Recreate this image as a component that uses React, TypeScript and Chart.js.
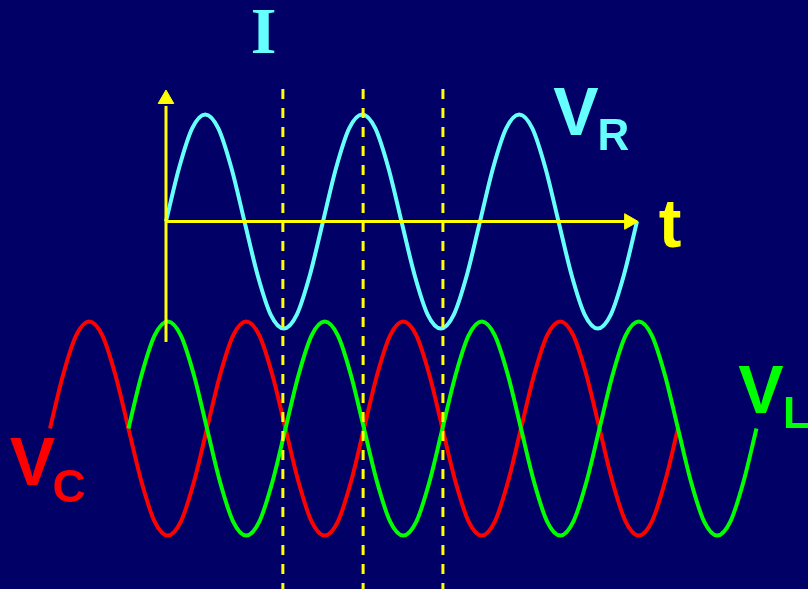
import React, { useEffect, useRef } from "react";
import { Chart, registerables } from "chart.js";

Chart.register(...registerables);

// Phase angle (degrees) of the sample points
const PHASE = [
  -270, -240, -210, -180, -150, -120, -90, -60, -30, 0, 30, 60, 90, 120, 150, 180,
  210, 240, 270, 300, 330, 360, 390, 420, 450, 480, 510, 540, 570, 600, 630, 660,
  690, 720, 750, 780, 810, 840, 870, 900, 930, 960, 990, 1020, 1050, 1080, 1110,
  1140, 1170, 1200, 1230, 1260, 1290, 1320, 1350,
];

// Current / V_R (in phase with I)
const V_R = [
  null, null, null, null, null, null, null, null, null,
  0, 0.5, 0.87, 1, 0.87, 0.5, 0, -0.5, -0.87, -1, -0.87, -0.5,
  0, 0.5, 0.87, 1, 0.87, 0.5, 0, -0.5, -0.87, -1, -0.87, -0.5,
  0, 0.5, 0.87, 1, 0.87, 0.5, 0, -0.5, -0.87, -1, -0.87, -0.5,
  0,
  null, null, null, null, null, null, null, null, null,
];

// V_L (leads by 90°)
const V_L = [
  null, null, null, null, null, null,
  0, 0.5, 0.87, 1, 0.87, 0.5, 0, -0.5, -0.87, -1, -0.87, -0.5,
  0, 0.5, 0.87, 1, 0.87, 0.5, 0, -0.5, -0.87, -1, -0.87, -0.5,
  0, 0.5, 0.87, 1, 0.87, 0.5, 0, -0.5, -0.87, -1, -0.87, -0.5,
  0, 0.5, 0.87, 1, 0.87, 0.5, 0, -0.5, -0.87, -1, -0.87, -0.5,
  0,
];

// V_C (lags by 90°)
const V_C = [
  0, 0.5, 0.87, 1, 0.87, 0.5, 0, -0.5, -0.87, -1, -0.87, -0.5,
  0, 0.5, 0.87, 1, 0.87, 0.5, 0, -0.5, -0.87, -1, -0.87, -0.5,
  0, 0.5, 0.87, 1, 0.87, 0.5, 0, -0.5, -0.87, -1, -0.87, -0.5,
  0, 0.5, 0.87, 1, 0.87, 0.5, 0, -0.5, -0.87, -1, -0.87, -0.5,
  0,
  null, null, null, null, null, null,
];

// Dashed time markers (phase, degrees)
const MARKERS = [268, 452, 635];

// Baseline and slight horizontal shift of the lower pair of waves
const LOWER_BASE = -1.935;
const LOWER_SHIFT = 4;

// Axis extents
const T_AXIS_END = 1062; // arrow head centre on the t axis
const V_AXIS_BOTTOM = -1.126;
const V_AXIS_TOP = 1.08;
const V_ARROW = 1.145;
const MARKER_TOP = 1.238;
const MARKER_BOTTOM = -3.6;

const X_MIN = -380.6;
const X_MAX = 1472.1;
const Y_MIN = -3.435;
const Y_MAX = 2.07;

const BG = "#000066";
const CYAN = "#66FFFF";
const RED = "#FF0000";
const GREEN = "#00FF00";
const YELLOW = "#FFFF00";

const SANS = '"Liberation Sans", Arial, sans-serif';
const SERIF = '"Liberation Serif", "Times New Roman", serif';

const LABELS = [
  { text: "I", x: 223.6, y: 1.575, font: `bold 66px ${SERIF}`, color: CYAN, align: "center" },
  { text: "V", x: 940, y: 0.808, font: `bold 68px ${SANS}`, color: CYAN, align: "center" },
  { text: "R", x: 1026, y: 0.668, font: `bold 44px ${SANS}`, color: CYAN, align: "center" },
  { text: "t", x: 1156, y: -0.238, font: `bold 68px ${SANS}`, color: YELLOW, align: "center" },
  { text: "V", x: 1364, y: -1.79, font: `bold 68px ${SANS}`, color: GREEN, align: "center" },
  { text: "L", x: 1415, y: -1.93, font: `bold 44px ${SANS}`, color: GREEN, align: "left" },
  { text: "V", x: -306, y: -2.463, font: `bold 68px ${SANS}`, color: RED, align: "center" },
  { text: "C", x: -222, y: -2.621, font: `bold 46px ${SANS}`, color: RED, align: "center" },
];

function series(vals: (number | null)[], base: number, shift: number) {
  const out: { x: number; y: number }[] = [];
  PHASE.forEach((p, i) => {
    const v = vals[i];
    if (v !== null && v !== undefined) out.push({ x: p + shift, y: v + base });
  });
  return out;
}

const bgPlugin = {
  id: "bg",
  beforeDraw(chart: any) {
    const { ctx, width, height } = chart;
    ctx.save();
    ctx.fillStyle = BG;
    ctx.fillRect(0, 0, width, height);
    ctx.restore();
  },
};

const labelPlugin = {
  id: "labels",
  afterDraw(chart: any) {
    const { ctx } = chart;
    const xs = chart.scales.x;
    const ys = chart.scales.y;
    ctx.save();
    ctx.textBaseline = "alphabetic";
    for (const l of LABELS) {
      ctx.font = l.font;
      ctx.fillStyle = l.color;
      ctx.textAlign = l.align as CanvasTextAlign;
      ctx.fillText(l.text, xs.getPixelForValue(l.x), ys.getPixelForValue(l.y));
    }
    ctx.restore();
  },
};

export default function App() {
  const ref = useRef<HTMLCanvasElement | null>(null);

  useEffect(() => {
    document.body.style.margin = "0";
    document.body.style.background = BG;
    const canvas = ref.current;
    if (!canvas) return;

    const wave = (data: any[], color: string, order: number) => ({
      data,
      borderColor: color,
      borderWidth: 4,
      pointRadius: 0,
      cubicInterpolationMode: "monotone" as const,
      fill: false,
      order,
    });

    const markerSets = MARKERS.map((m) => ({
      data: [
        { x: m, y: MARKER_TOP },
        { x: m, y: MARKER_BOTTOM },
      ],
      borderColor: YELLOW,
      borderWidth: 3,
      borderDash: [10, 9],
      pointRadius: 0,
      fill: false,
      order: 0,
    }));

    const chart = new Chart(canvas, {
      type: "line",
      data: {
        datasets: [
          // vertical axis
          {
            data: [
              { x: 0, y: V_AXIS_BOTTOM },
              { x: 0, y: V_AXIS_TOP },
            ],
            borderColor: YELLOW,
            borderWidth: 3,
            pointRadius: 0,
            fill: false,
            order: 0,
          },
          {
            data: [{ x: 0, y: V_ARROW }],
            showLine: false,
            pointStyle: "triangle",
            pointRadius: 9,
            pointRotation: 0,
            pointBackgroundColor: YELLOW,
            pointBorderColor: YELLOW,
            pointBorderWidth: 1,
            order: 0,
          },
          // horizontal (t) axis
          {
            data: [
              { x: 0, y: 0 },
              { x: T_AXIS_END, y: 0 },
            ],
            borderColor: YELLOW,
            borderWidth: 3,
            pointRadius: 0,
            fill: false,
            order: 0,
          },
          {
            data: [{ x: T_AXIS_END, y: 0 }],
            showLine: false,
            pointStyle: "triangle",
            pointRadius: 9,
            pointRotation: 90,
            pointBackgroundColor: YELLOW,
            pointBorderColor: YELLOW,
            pointBorderWidth: 1,
            order: 0,
          },
          ...markerSets,
          wave(series(V_L, LOWER_BASE, LOWER_SHIFT), GREEN, 1),
          wave(series(V_C, LOWER_BASE, LOWER_SHIFT), RED, 2),
          wave(series(V_R, 0, 0), CYAN, 3),
        ] as any,
      },
      options: {
        animation: false,
        responsive: false,
        maintainAspectRatio: false,
        layout: { padding: 0, autoPadding: false },
        events: [],
        plugins: {
          legend: { display: false },
          tooltip: { enabled: false },
          title: { display: false },
        },
        scales: {
          x: { type: "linear", min: X_MIN, max: X_MAX, display: false },
          y: { type: "linear", min: Y_MIN, max: Y_MAX, display: false },
        },
      },
      plugins: [bgPlugin, labelPlugin],
    });

    return () => chart.destroy();
  }, []);

  return (
    <div
      style={{
        position: "absolute",
        left: 0,
        top: 0,
        width: 808,
        height: 589,
        background: BG,
      }}
    >
      <canvas ref={ref} width={808} height={589} style={{ display: "block" }} />
    </div>
  );
}
